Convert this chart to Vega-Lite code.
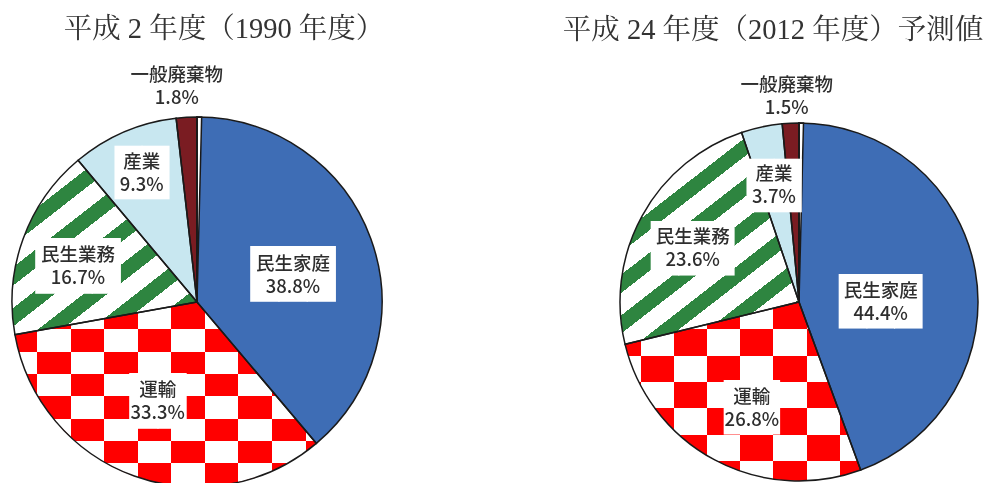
{
  "$schema": "https://vega.github.io/schema/vega-lite/v6.json",
  "background": "#ffffff",
  "padding": {"left": 5, "top": 14, "right": 0, "bottom": 0},
  "datasets": {
    "d": [
      {"year": "1990", "cat": "民生家庭", "v": 38.8},
      {"year": "1990", "cat": "運輸", "v": 33.3},
      {"year": "1990", "cat": "民生業務", "v": 16.7},
      {"year": "1990", "cat": "産業", "v": 9.3},
      {"year": "1990", "cat": "一般廃棄物", "v": 1.8},
      {"year": "1990", "cat": "その他", "v": 0.4},
      {"year": "2012", "cat": "民生家庭", "v": 44.4},
      {"year": "2012", "cat": "運輸", "v": 26.8},
      {"year": "2012", "cat": "民生業務", "v": 23.6},
      {"year": "2012", "cat": "産業", "v": 3.7},
      {"year": "2012", "cat": "一般廃棄物", "v": 1.5},
      {"year": "2012", "cat": "その他", "v": 0.4}
    ]
  },
  "data": {"name": "d"},
  "bounds": "flush",
  "spacing": 218,
  "hconcat": [
    {
      "width": 384,
      "height": 470,
      "title": {"text": "平成 2 年度（1990 年度）", "dx": 27},
      "transform": [
        {"filter": "datum.year === '1990'"},
        {"window": [{"op": "row_number", "as": "rn"}]},
        {"stack": "v", "groupby": [], "sort": [{"field": "rn", "order": "ascending"}], "as": ["v0", "v1"]},
        {"calculate": "(datum.v0 + datum.v1) / 2", "as": "mid"},
        {"calculate": "datum.cat + '|' + format(datum.v, '.1f') + '%'", "as": "label"}
      ],
      "layer": [
        {
          "mark": {"type": "arc", "radius": 185},
          "encoding": {
            "theta": {"field": "v0", "type": "quantitative"},
            "theta2": {"field": "v1"},
            "fill": {
              "condition": [
                {"test": "datum.cat === '民生家庭'", "value": "#3e6db5"},
                {"test": "datum.cat === '運輸'", "value": {"gradient": "linear", "x1": 0, "y1": 0, "x2": 1, "y2": 0, "stops": [
                  {"offset": 0, "color": "#ffffff"}, {"offset": 0.0745, "color": "#ffffff"},
                  {"offset": 0.0745, "color": "#ff0000"}, {"offset": 0.1857, "color": "#ff0000"},
                  {"offset": 0.1857, "color": "#ffffff"}, {"offset": 0.2969, "color": "#ffffff"},
                  {"offset": 0.2969, "color": "#ff0000"}, {"offset": 0.4081, "color": "#ff0000"},
                  {"offset": 0.4081, "color": "#ffffff"}, {"offset": 0.5193, "color": "#ffffff"},
                  {"offset": 0.5193, "color": "#ff0000"}, {"offset": 0.6305, "color": "#ff0000"},
                  {"offset": 0.6305, "color": "#ffffff"}, {"offset": 0.7417, "color": "#ffffff"},
                  {"offset": 0.7417, "color": "#ff0000"}, {"offset": 0.8529, "color": "#ff0000"},
                  {"offset": 0.8529, "color": "#ffffff"}, {"offset": 0.9641, "color": "#ffffff"},
                  {"offset": 0.9641, "color": "#ff0000"}, {"offset": 1, "color": "#ff0000"}
                ]}},
                {"test": "datum.cat === '民生業務'", "value": {"gradient": "linear", "x1": 0, "y1": 0, "x2": 0.897, "y2": 1.085, "stops": [
                  {"offset": 0, "color": "#2e8540"}, {"offset": 0.011, "color": "#2e8540"},
                  {"offset": 0.011, "color": "#ffffff"}, {"offset": 0.0813, "color": "#ffffff"},
                  {"offset": 0.0813, "color": "#2e8540"}, {"offset": 0.1393, "color": "#2e8540"},
                  {"offset": 0.1393, "color": "#ffffff"}, {"offset": 0.2096, "color": "#ffffff"},
                  {"offset": 0.2096, "color": "#2e8540"}, {"offset": 0.2676, "color": "#2e8540"},
                  {"offset": 0.2676, "color": "#ffffff"}, {"offset": 0.3379, "color": "#ffffff"},
                  {"offset": 0.3379, "color": "#2e8540"}, {"offset": 0.3959, "color": "#2e8540"},
                  {"offset": 0.3959, "color": "#ffffff"}, {"offset": 0.4662, "color": "#ffffff"},
                  {"offset": 0.4662, "color": "#2e8540"}, {"offset": 0.5242, "color": "#2e8540"},
                  {"offset": 0.5242, "color": "#ffffff"}, {"offset": 0.5945, "color": "#ffffff"},
                  {"offset": 0.5945, "color": "#2e8540"}, {"offset": 0.6525, "color": "#2e8540"},
                  {"offset": 0.6525, "color": "#ffffff"}, {"offset": 0.7228, "color": "#ffffff"},
                  {"offset": 0.7228, "color": "#2e8540"}, {"offset": 0.7808, "color": "#2e8540"},
                  {"offset": 0.7808, "color": "#ffffff"}, {"offset": 0.8511, "color": "#ffffff"},
                  {"offset": 0.8511, "color": "#2e8540"}, {"offset": 0.9091, "color": "#2e8540"},
                  {"offset": 0.9091, "color": "#ffffff"}, {"offset": 0.9794, "color": "#ffffff"},
                  {"offset": 0.9794, "color": "#2e8540"}, {"offset": 1, "color": "#2e8540"}
                ]}},
                {"test": "datum.cat === '産業'", "value": "#c8e7f0"},
                {"test": "datum.cat === '一般廃棄物'", "value": "#7a1c22"}
              ],
              "value": "#ffffff"
            }
          }
        },
        {
          "transform": [{"filter": "datum.cat === '運輸'"}],
          "mark": {"type": "arc", "radius": 185, "blend": "exclusion"},
          "encoding": {
            "theta": {"field": "v0", "type": "quantitative"},
            "theta2": {"field": "v1"},
            "fill": {"value": {"gradient": "linear", "x1": 0, "y1": 0, "x2": 0, "y2": 1, "stops": [
                {"offset": 0, "color": "#000000"}, {"offset": 0.1475, "color": "#000000"},
                {"offset": 0.1475, "color": "#00ffff"}, {"offset": 0.2683, "color": "#00ffff"},
                {"offset": 0.2683, "color": "#000000"}, {"offset": 0.3891, "color": "#000000"},
                {"offset": 0.3891, "color": "#00ffff"}, {"offset": 0.5099, "color": "#00ffff"},
                {"offset": 0.5099, "color": "#000000"}, {"offset": 0.6307, "color": "#000000"},
                {"offset": 0.6307, "color": "#00ffff"}, {"offset": 0.7515, "color": "#00ffff"},
                {"offset": 0.7515, "color": "#000000"}, {"offset": 0.8723, "color": "#000000"},
                {"offset": 0.8723, "color": "#00ffff"}, {"offset": 0.9931, "color": "#00ffff"},
                {"offset": 0.9931, "color": "#000000"}, {"offset": 1, "color": "#000000"}
              ]}}
          }
        },
        {
          "mark": {"type": "arc", "radius": 185, "fill": "transparent", "stroke": "#1a1a1a", "strokeWidth": 1.5},
          "encoding": {"theta": {"field": "v0", "type": "quantitative"}, "theta2": {"field": "v1"}}
        },
        {"transform": [{"filter": "datum.cat === '民生家庭'"}],
         "mark": {"type": "text", "text": "███", "radius": 100, "dx": 2, "dy": 8, "font": "DejaVu Sans Mono", "fontSize": 47, "fill": "#ffffff"},
         "encoding": {"theta": {"field": "mid", "type": "quantitative"}}},
        {"transform": [{"filter": "datum.cat === '運輸'"}],
         "mark": {"type": "text", "text": "██", "radius": 107, "dx": -3, "dy": 0, "font": "DejaVu Sans Mono", "fontSize": 47, "fill": "#ffffff"},
         "encoding": {"theta": {"field": "mid", "type": "quantitative"}}},
        {"transform": [{"filter": "datum.cat === '民生業務'"}],
         "mark": {"type": "text", "text": "███", "radius": 124.5, "dx": -2, "dy": 8, "font": "DejaVu Sans Mono", "fontSize": 47, "fill": "#ffffff"},
         "encoding": {"theta": {"field": "mid", "type": "quantitative"}}},
        {"transform": [{"filter": "datum.cat === '産業'"}],
         "mark": {"type": "text", "text": "██", "radius": 140, "dx": 0, "dy": 1, "font": "DejaVu Sans Mono", "fontSize": 45, "fill": "#ffffff"},
         "encoding": {"theta": {"field": "mid", "type": "quantitative"}}},
        {"transform": [{"filter": "datum.cat === '民生家庭'"}],
         "mark": {"type": "text", "radius": 100, "dx": 2, "dy": -3.5, "font": "Noto Sans CJK JP", "fontSize": 18.5, "fontWeight": 500, "fill": "#2e2e2e", "lineBreak": "|", "lineHeight": 23},
         "encoding": {"theta": {"field": "mid", "type": "quantitative"}, "text": {"field": "label", "type": "nominal"}}},
        {"transform": [{"filter": "datum.cat === '運輸'"}],
         "mark": {"type": "text", "radius": 107, "dx": -3, "dy": -12.5, "font": "Noto Sans CJK JP", "fontSize": 18.5, "fontWeight": 500, "fill": "#2e2e2e", "lineBreak": "|", "lineHeight": 23},
         "encoding": {"theta": {"field": "mid", "type": "quantitative"}, "text": {"field": "label", "type": "nominal"}}},
        {"transform": [{"filter": "datum.cat === '民生業務'"}],
         "mark": {"type": "text", "radius": 124.5, "dx": -2, "dy": -4.5, "font": "Noto Sans CJK JP", "fontSize": 18.5, "fontWeight": 500, "fill": "#2e2e2e", "lineBreak": "|", "lineHeight": 23},
         "encoding": {"theta": {"field": "mid", "type": "quantitative"}, "text": {"field": "label", "type": "nominal"}}},
        {"transform": [{"filter": "datum.cat === '産業'"}],
         "mark": {"type": "text", "radius": 140, "dx": 0, "dy": -11.5, "font": "Noto Sans CJK JP", "fontSize": 18.5, "fontWeight": 500, "fill": "#2e2e2e", "lineBreak": "|", "lineHeight": 23},
         "encoding": {"theta": {"field": "mid", "type": "quantitative"}, "text": {"field": "label", "type": "nominal"}}},
        {"transform": [{"filter": "datum.cat === '一般廃棄物'"}],
         "mark": {"type": "text", "radius": 215.5, "dx": -8, "dy": -11.5, "font": "Noto Sans CJK JP", "fontSize": 18.5, "fontWeight": 500, "fill": "#2e2e2e", "lineBreak": "|", "lineHeight": 23},
         "encoding": {"theta": {"field": "mid", "type": "quantitative"}, "text": {"field": "label", "type": "nominal"}}}
      ]
    },
    {
      "width": 384,
      "height": 470,
      "title": {"text": "平成 24 年度（2012 年度）予測値", "dx": -26},
      "transform": [
        {"filter": "datum.year === '2012'"},
        {"window": [{"op": "row_number", "as": "rn"}]},
        {"stack": "v", "groupby": [], "sort": [{"field": "rn", "order": "ascending"}], "as": ["v0", "v1"]},
        {"calculate": "(datum.v0 + datum.v1) / 2", "as": "mid"},
        {"calculate": "datum.cat + '|' + format(datum.v, '.1f') + '%'", "as": "label"}
      ],
      "layer": [
        {
          "mark": {"type": "arc", "radius": 179},
          "encoding": {
            "theta": {"field": "v0", "type": "quantitative"},
            "theta2": {"field": "v1"},
            "fill": {
              "condition": [
                {"test": "datum.cat === '民生家庭'", "value": "#3e6db5"},
                {"test": "datum.cat === '運輸'", "value": {"gradient": "linear", "x1": 0, "y1": 0, "x2": 1, "y2": 0, "stops": [
                  {"offset": 0, "color": "#ffffff"}, {"offset": 0.0667, "color": "#ffffff"},
                  {"offset": 0.0667, "color": "#ff0000"}, {"offset": 0.2074, "color": "#ff0000"},
                  {"offset": 0.2074, "color": "#ffffff"}, {"offset": 0.3481, "color": "#ffffff"},
                  {"offset": 0.3481, "color": "#ff0000"}, {"offset": 0.4888, "color": "#ff0000"},
                  {"offset": 0.4888, "color": "#ffffff"}, {"offset": 0.6295, "color": "#ffffff"},
                  {"offset": 0.6295, "color": "#ff0000"}, {"offset": 0.7702, "color": "#ff0000"},
                  {"offset": 0.7702, "color": "#ffffff"}, {"offset": 0.9109, "color": "#ffffff"},
                  {"offset": 0.9109, "color": "#ff0000"}, {"offset": 1, "color": "#ff0000"}
                ]}},
                {"test": "datum.cat === '民生業務'", "value": {"gradient": "linear", "x1": 0, "y1": 0, "x2": 0.759, "y2": 1.158, "stops": [
                  {"offset": 0, "color": "#ffffff"}, {"offset": 0.0599, "color": "#ffffff"},
                  {"offset": 0.0599, "color": "#2e8540"}, {"offset": 0.1119, "color": "#2e8540"},
                  {"offset": 0.1119, "color": "#ffffff"}, {"offset": 0.1759, "color": "#ffffff"},
                  {"offset": 0.1759, "color": "#2e8540"}, {"offset": 0.2279, "color": "#2e8540"},
                  {"offset": 0.2279, "color": "#ffffff"}, {"offset": 0.2919, "color": "#ffffff"},
                  {"offset": 0.2919, "color": "#2e8540"}, {"offset": 0.3439, "color": "#2e8540"},
                  {"offset": 0.3439, "color": "#ffffff"}, {"offset": 0.4079, "color": "#ffffff"},
                  {"offset": 0.4079, "color": "#2e8540"}, {"offset": 0.4599, "color": "#2e8540"},
                  {"offset": 0.4599, "color": "#ffffff"}, {"offset": 0.5239, "color": "#ffffff"},
                  {"offset": 0.5239, "color": "#2e8540"}, {"offset": 0.5759, "color": "#2e8540"},
                  {"offset": 0.5759, "color": "#ffffff"}, {"offset": 0.6399, "color": "#ffffff"},
                  {"offset": 0.6399, "color": "#2e8540"}, {"offset": 0.6919, "color": "#2e8540"},
                  {"offset": 0.6919, "color": "#ffffff"}, {"offset": 0.7559, "color": "#ffffff"},
                  {"offset": 0.7559, "color": "#2e8540"}, {"offset": 0.8079, "color": "#2e8540"},
                  {"offset": 0.8079, "color": "#ffffff"}, {"offset": 0.8719, "color": "#ffffff"},
                  {"offset": 0.8719, "color": "#2e8540"}, {"offset": 0.9239, "color": "#2e8540"},
                  {"offset": 0.9239, "color": "#ffffff"}, {"offset": 0.9879, "color": "#ffffff"},
                  {"offset": 0.9879, "color": "#2e8540"}, {"offset": 1, "color": "#2e8540"}
                ]}},
                {"test": "datum.cat === '産業'", "value": "#c8e7f0"},
                {"test": "datum.cat === '一般廃棄物'", "value": "#7a1c22"}
              ],
              "value": "#ffffff"
            }
          }
        },
        {
          "transform": [{"filter": "datum.cat === '運輸'"}],
          "mark": {"type": "arc", "radius": 179, "blend": "exclusion"},
          "encoding": {
            "theta": {"field": "v0", "type": "quantitative"},
            "theta2": {"field": "v1"},
            "fill": {"value": {"gradient": "linear", "x1": 0, "y1": 0, "x2": 0, "y2": 1, "stops": [
                {"offset": 0, "color": "#000000"}, {"offset": 0.1525, "color": "#000000"},
                {"offset": 0.1525, "color": "#00ffff"}, {"offset": 0.2995, "color": "#00ffff"},
                {"offset": 0.2995, "color": "#000000"}, {"offset": 0.4465, "color": "#000000"},
                {"offset": 0.4465, "color": "#00ffff"}, {"offset": 0.5935, "color": "#00ffff"},
                {"offset": 0.5935, "color": "#000000"}, {"offset": 0.7405, "color": "#000000"},
                {"offset": 0.7405, "color": "#00ffff"}, {"offset": 0.8875, "color": "#00ffff"},
                {"offset": 0.8875, "color": "#000000"}, {"offset": 1, "color": "#000000"}
              ]}}
          }
        },
        {
          "mark": {"type": "arc", "radius": 179, "fill": "transparent", "stroke": "#1a1a1a", "strokeWidth": 1.5},
          "encoding": {"theta": {"field": "v0", "type": "quantitative"}, "theta2": {"field": "v1"}}
        },
        {"transform": [{"filter": "datum.cat === '民生家庭'"}],
         "mark": {"type": "text", "text": "███", "radius": 82, "dx": 1, "dy": 15, "font": "DejaVu Sans Mono", "fontSize": 46, "fill": "#ffffff"},
         "encoding": {"theta": {"field": "mid", "type": "quantitative"}}},
        {"transform": [{"filter": "datum.cat === '運輸'"}],
         "mark": {"type": "text", "text": "██", "radius": 115, "dx": 7, "dy": 6, "font": "DejaVu Sans Mono", "fontSize": 46, "fill": "#ffffff"},
         "encoding": {"theta": {"field": "mid", "type": "quantitative"}}},
        {"transform": [{"filter": "datum.cat === '民生業務'"}],
         "mark": {"type": "text", "text": "███", "radius": 119, "dx": -2, "dy": 5, "font": "DejaVu Sans Mono", "fontSize": 46, "fill": "#ffffff"},
         "encoding": {"theta": {"field": "mid", "type": "quantitative"}}},
        {"transform": [{"filter": "datum.cat === '産業'"}],
         "mark": {"type": "text", "text": "██", "radius": 120, "dx": 0, "dy": 2, "font": "DejaVu Sans Mono", "fontSize": 45, "fill": "#ffffff"},
         "encoding": {"theta": {"field": "mid", "type": "quantitative"}}},
        {"transform": [{"filter": "datum.cat === '民生家庭'"}],
         "mark": {"type": "text", "radius": 82, "dx": 1, "dy": 3.5, "font": "Noto Sans CJK JP", "fontSize": 18.5, "fontWeight": 500, "fill": "#2e2e2e", "lineBreak": "|", "lineHeight": 23},
         "encoding": {"theta": {"field": "mid", "type": "quantitative"}, "text": {"field": "label", "type": "nominal"}}},
        {"transform": [{"filter": "datum.cat === '運輸'"}],
         "mark": {"type": "text", "radius": 115, "dx": 7, "dy": -6.5, "font": "Noto Sans CJK JP", "fontSize": 18.5, "fontWeight": 500, "fill": "#2e2e2e", "lineBreak": "|", "lineHeight": 23},
         "encoding": {"theta": {"field": "mid", "type": "quantitative"}, "text": {"field": "label", "type": "nominal"}}},
        {"transform": [{"filter": "datum.cat === '民生業務'"}],
         "mark": {"type": "text", "radius": 119, "dx": -2, "dy": -7.5, "font": "Noto Sans CJK JP", "fontSize": 18.5, "fontWeight": 500, "fill": "#2e2e2e", "lineBreak": "|", "lineHeight": 23},
         "encoding": {"theta": {"field": "mid", "type": "quantitative"}, "text": {"field": "label", "type": "nominal"}}},
        {"transform": [{"filter": "datum.cat === '産業'"}],
         "mark": {"type": "text", "radius": 120, "dx": 0, "dy": -10.5, "font": "Noto Sans CJK JP", "fontSize": 18.5, "fontWeight": 500, "fill": "#2e2e2e", "lineBreak": "|", "lineHeight": 23},
         "encoding": {"theta": {"field": "mid", "type": "quantitative"}, "text": {"field": "label", "type": "nominal"}}},
        {"transform": [{"filter": "datum.cat === '一般廃棄物'"}],
         "mark": {"type": "text", "radius": 207, "dx": -2.5, "dy": -10.5, "font": "Noto Sans CJK JP", "fontSize": 18.5, "fontWeight": 500, "fill": "#2e2e2e", "lineBreak": "|", "lineHeight": 23},
         "encoding": {"theta": {"field": "mid", "type": "quantitative"}, "text": {"field": "label", "type": "nominal"}}}
      ]
    }
  ],
  "config": {
    "view": {"stroke": null},
    "title": {"font": "Liberation Serif, Noto Serif CJK JP, Noto Sans CJK JP", "fontSize": 28.5, "fontWeight": "normal", "color": "#333333", "offset": 23, "anchor": "middle"}
  }
}
